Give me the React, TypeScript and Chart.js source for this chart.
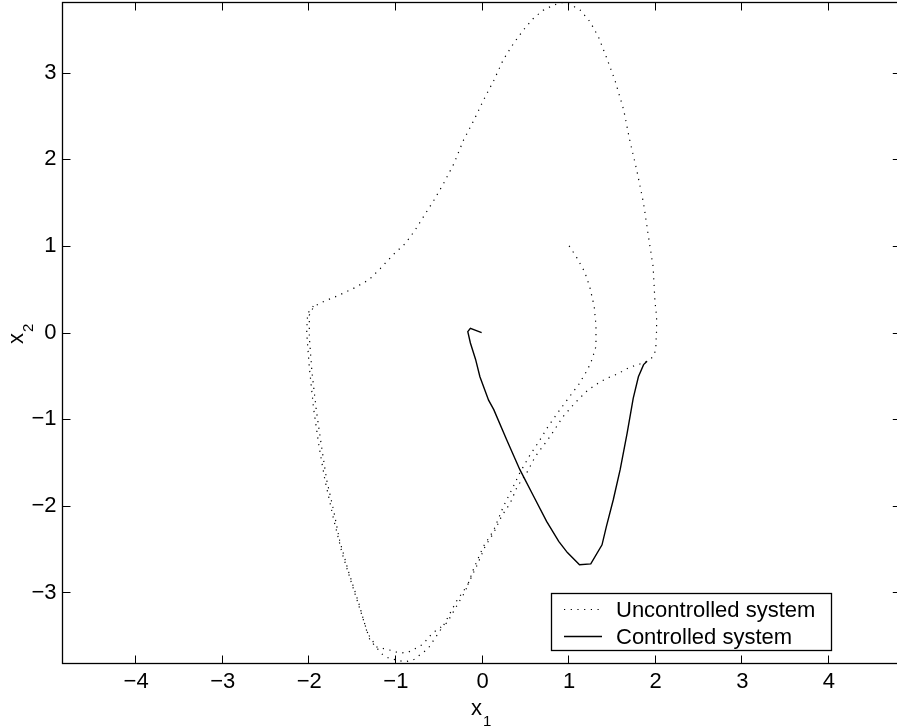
import React, { useEffect, useRef } from 'react';
import { Chart, registerables } from 'chart.js';

Chart.register(...registerables);

// ---- data ----
const uncontrolledX = [
  1.00, 1.08, 1.18, 1.24, 1.29, 1.31, 1.31, 1.28, 1.25, 1.20, 1.11, 0.99, 0.88, 0.76, 0.65, 0.55, 0.43, 0.34, 0.24, 0.13, 0.01,
  -0.10, -0.20, -0.26, -0.41, -0.58, -0.69, -0.78, -0.86, -0.96, -1.05, -1.22, -1.33, -1.43,
  -1.55, -1.65, -1.72, -1.80, -1.86, -1.92, -1.97, -2.00, -2.00, -1.95, -1.83, -1.66, -1.49, -1.31, -1.18, -1.03, -0.89,
  -0.78, -0.68, -0.56, -0.45, -0.33, -0.22, -0.10, 0.01, 0.13, 0.24, 0.36, 0.47, 0.59, 0.70, 0.82, 0.92, 1.01, 1.13, 1.24,
  1.34, 1.43, 1.53, 1.63, 1.70, 1.78, 1.86, 1.91, 1.97, 1.99, 2.01, 2.01, 2.00, 1.97, 1.90, 1.80, 1.70, 1.61, 1.53, 1.43,
  1.36, 1.28, 1.20, 1.07, 0.93, 0.78, 0.61, 0.51, 0.40, 0.32, 0.22, 0.13, 0.03, -0.07, -0.17, -0.30, -0.45, -0.63, -0.71,
  -0.80, -0.90, -1.08, -1.16, -1.30, -1.50, -1.62, -1.72, -1.82, -1.89, -1.95, -2.00, -2.03, -2.02, -1.95,
];
const uncontrolledY = [
  1.00, 0.88, 0.70, 0.52, 0.30, 0.08, -0.16, -0.26, -0.35, -0.45, -0.60, -0.76, -0.91, -1.08, -1.26, -1.41, -1.62, -1.81, -2.01, -2.28, -2.47,
  -2.72, -2.99, -3.09, -3.35, -3.47, -3.60, -3.65, -3.69, -3.70, -3.67, -3.63, -3.47, -3.12,
  -2.75, -2.40, -2.05, -1.70, -1.31, -0.89, -0.45, -0.05, 0.20, 0.30, 0.36, 0.43, 0.51, 0.61, 0.74, 0.90, 1.03,
  1.18, 1.34, 1.53, 1.72, 1.95, 2.22, 2.45, 2.68, 2.91, 3.15, 3.34, 3.49, 3.63, 3.72, 3.78, 3.81, 3.79, 3.72, 3.59,
  3.41, 3.18, 2.91, 2.57, 2.22, 1.88, 1.49, 1.15, 0.76, 0.38, 0.18, 0.03, -0.20, -0.28, -0.33, -0.37, -0.40, -0.45, -0.49, -0.53,
  -0.57, -0.62, -0.68, -0.81, -0.97, -1.20, -1.43, -1.62, -1.78, -1.97, -2.12, -2.31, -2.47, -2.70, -2.91, -3.10, -3.38, -3.65, -3.71,
  -3.78, -3.80, -3.76, -3.71, -3.55, -2.93, -2.55, -2.15, -1.70, -1.30, -0.88, -0.40, 0.00, 0.22, 0.31,
];
const controlledX = [
  1.90, 1.86, 1.80, 1.74, 1.67, 1.59, 1.51, 1.43, 1.38, 1.25, 1.12, 0.98, 0.88, 0.74, 0.59, 0.43, 0.28, 0.13, 0.07,
  -0.03, -0.08, -0.14, -0.17, -0.14, -0.01,
];
const controlledY = [
  -0.33, -0.37, -0.51, -0.76, -1.16, -1.58, -1.93, -2.24, -2.45, -2.67, -2.68, -2.54, -2.41, -2.18, -1.89, -1.58, -1.24, -0.89, -0.78,
  -0.51, -0.31, -0.12, 0.01, 0.05, 0.00,
];
const xTickValues = [-4, -3, -2, -1, 0, 1, 2, 3, 4];
const yTickValues = [-3, -2, -1, 0, 1, 2, 3];
const seriesLabels = ['Uncontrolled system', 'Controlled system'];
const xAxisTitle = ['x', '1'];
const yAxisTitle = ['x', '2'];

const FONT = '"Liberation Sans", Arial, Helvetica, sans-serif';

const fmt = (v: number) => (v < 0 ? '\u2212' + Math.abs(v) : String(v));

const framePlugin = {
  id: 'matlabFrame',
  afterDraw(chart: any) {
    const { ctx, chartArea: a, scales } = chart;
    const xs = scales.x;
    const ys = scales.y;
    ctx.save();
    ctx.strokeStyle = '#000';
    // inward ticks on all four sides
    ctx.lineWidth = 1;
    const tl = 8;
    ctx.beginPath();
    for (const v of xTickValues) {
      const px = Math.round(xs.getPixelForValue(v)) - 0.5;
      ctx.moveTo(px, a.bottom);
      ctx.lineTo(px, a.bottom - tl);
      ctx.moveTo(px, a.top);
      ctx.lineTo(px, a.top + tl);
    }
    for (const v of yTickValues) {
      const py = Math.round(ys.getPixelForValue(v)) + 0.5;
      ctx.moveTo(a.left, py);
      ctx.lineTo(a.left + tl, py);
      ctx.moveTo(a.right, py);
      ctx.lineTo(a.right - tl, py);
    }
    ctx.stroke();
    // box
    ctx.lineWidth = 1.3;
    ctx.strokeRect(a.left, a.top, a.right - a.left, a.bottom - a.top);

    // axis titles
    ctx.fillStyle = '#000';
    ctx.textAlign = 'left';
    ctx.textBaseline = 'alphabetic';
    ctx.font = `22px ${FONT}`;
    ctx.fillText(xAxisTitle[0], 471, 715);
    ctx.font = `15px ${FONT}`;
    ctx.fillText(xAxisTitle[1], 483, 726);

    ctx.save();
    ctx.translate(23, 344);
    ctx.rotate(-Math.PI / 2);
    ctx.font = `22px ${FONT}`;
    ctx.fillText(yAxisTitle[0], 0, 0);
    ctx.font = `15px ${FONT}`;
    ctx.fillText(yAxisTitle[1], 12, 10);
    ctx.restore();

    // legend
    const bx = 551.5, by = 593.5, bw = 280, bh = 57;
    ctx.fillStyle = '#fff';
    ctx.fillRect(bx, by, bw, bh);
    ctx.lineWidth = 1.3;
    ctx.strokeStyle = '#000';
    ctx.strokeRect(bx, by, bw, bh);
    const rows = [609.5, 636.5];
    const baselines = [617, 643.5];
    chart.data.datasets.forEach((ds: any, i: number) => {
      ctx.save();
      ctx.strokeStyle = ds.borderColor;
      ctx.lineWidth = ds.borderWidth;
      ctx.setLineDash(ds.borderDash || []);
      ctx.beginPath();
      ctx.moveTo(564, rows[i]);
      ctx.lineTo(602, rows[i]);
      ctx.stroke();
      ctx.restore();
      ctx.fillStyle = '#000';
      ctx.font = `22px ${FONT}`;
      ctx.fillText(ds.label, 616, baselines[i]);
    });
    ctx.restore();
  },
};

export default function App() {
  const ref = useRef<HTMLCanvasElement | null>(null);
  useEffect(() => {
    if (!ref.current) return;
    const unData = uncontrolledX.map((x, i) => ({ x, y: uncontrolledY[i] }));
    const ctData = controlledX.map((x, i) => ({ x, y: controlledY[i] }));
    const chart = new Chart(ref.current, {
      type: 'scatter',
      data: {
        datasets: [
          {
            label: seriesLabels[0],
            data: unData,
            showLine: true,
            borderColor: '#000',
            borderWidth: 1.2,
            borderDash: [1.2, 5.5],
            pointRadius: 0,
            tension: 0,
          },
          {
            label: seriesLabels[1],
            data: ctData,
            showLine: true,
            borderColor: '#000',
            borderWidth: 1.4,
            pointRadius: 0,
            tension: 0,
          },
        ],
      } as any,
      options: {
        animation: false,
        responsive: false,
        devicePixelRatio: 1,
        layout: { padding: { left: 0, top: 2.5, right: 9.2, bottom: 0 } },
        plugins: { legend: { display: false }, tooltip: { enabled: false } },
        scales: {
          x: {
            type: 'linear',
            min: -4.85,
            max: 4.83,
            grid: { display: false, drawTicks: false },
            border: { display: false },
            ticks: {
              font: { family: FONT, size: 22 },
              color: '#000',
              padding: 5,
              maxRotation: 0,
              autoSkip: false,
              callback: (v: any) => fmt(Number(v)),
            },
            afterBuildTicks: (s: any) => {
              s.ticks = xTickValues.map((value) => ({ value }));
            },
            afterFit: (s: any) => {
              s.height = 63.5;
              s.paddingLeft = 0;
              s.paddingRight = 0;
            },
          },
          y: {
            type: 'linear',
            min: -3.82,
            max: 3.81,
            grid: { display: false, drawTicks: false },
            border: { display: false },
            ticks: {
              font: { family: FONT, size: 22 },
              color: '#000',
              padding: 6,
              autoSkip: false,
              callback: (v: any) => fmt(Number(v)),
            },
            afterBuildTicks: (s: any) => {
              s.ticks = yTickValues.map((value) => ({ value }));
            },
            afterFit: (s: any) => {
              s.width = 62.5;
              s.paddingTop = 0;
              s.paddingBottom = 0;
            },
          },
        },
      } as any,
      plugins: [framePlugin],
    });
    return () => chart.destroy();
  }, []);
  return (
    <div style={{ position: 'absolute', left: 0, top: 0, width: 897, height: 727, overflow: 'hidden', background: '#fff' }}>
      <canvas ref={ref} width={910} height={727} style={{ display: 'block', width: 910, height: 727 }} />
    </div>
  );
}
